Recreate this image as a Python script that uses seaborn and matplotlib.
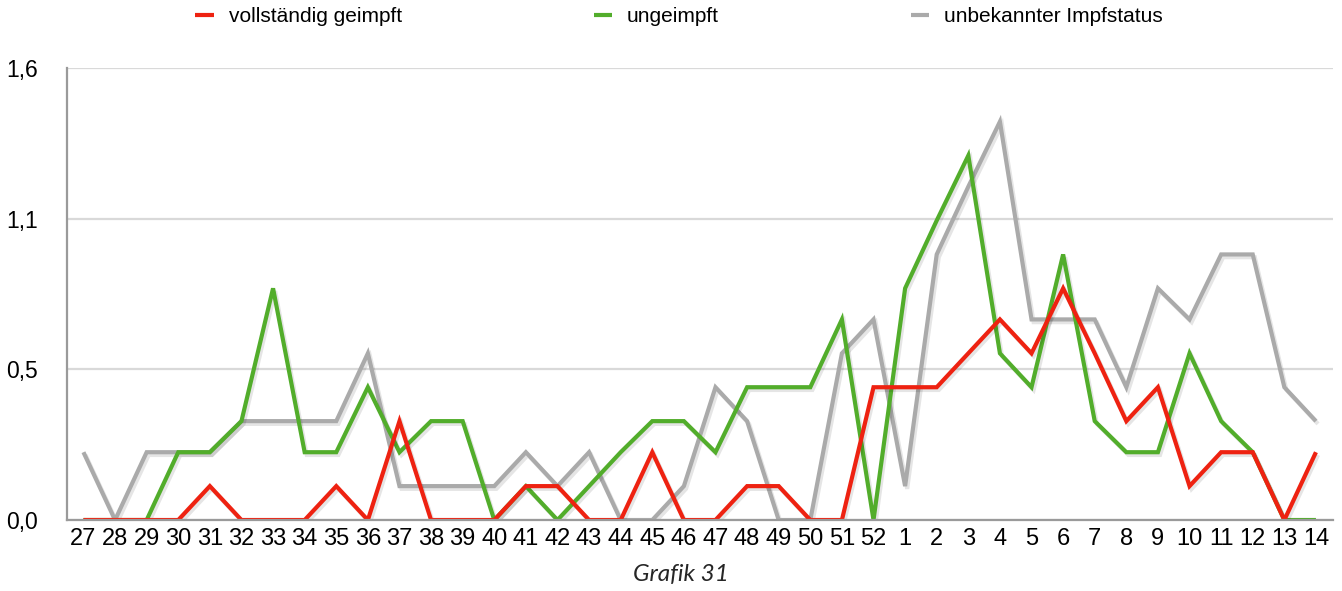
import matplotlib
matplotlib.use('Agg')
import matplotlib.pyplot as plt
import matplotlib.patheffects as pe
import seaborn as sns
import pandas as pd
import numpy as np

# Kalenderwochen (27/2021 bis 14/2022)
weeks = ['27', '28', '29', '30', '31', '32', '33', '34', '35', '36', '37', '38', '39', '40',
         '41', '42', '43', '44', '45', '46', '47', '48', '49', '50', '51', '52',
         '1', '2', '3', '4', '5', '6', '7', '8', '9', '10', '11', '12', '13', '14']

vollstaendig = [0, 0, 0, 0, 0.12, 0, 0, 0, 0.12, 0, 0.35, 0, 0, 0,
                0.12, 0.12, 0, 0, 0.24, 0, 0, 0.12, 0.12, 0, 0, 0.47,
                0.47, 0.47, 0.59, 0.71, 0.59, 0.82, 0.59, 0.35, 0.47, 0.12, 0.24, 0.24, 0, 0.24]

ungeimpft = [0, 0, 0, 0.24, 0.24, 0.35, 0.82, 0.24, 0.24, 0.47, 0.24, 0.35, 0.35, 0,
             0.12, 0, 0.12, 0.24, 0.35, 0.35, 0.24, 0.47, 0.47, 0.47, 0.71, 0,
             0.82, 1.06, 1.29, 0.59, 0.47, 0.94, 0.35, 0.24, 0.24, 0.59, 0.35, 0.24, 0, 0]

unbekannt = [0.24, 0, 0.24, 0.24, 0.24, 0.35, 0.35, 0.35, 0.35, 0.59, 0.12, 0.12, 0.12, 0.12,
             0.24, 0.12, 0.24, 0, 0, 0.12, 0.47, 0.35, 0, 0, 0.59, 0.71,
             0.12, 0.94, 1.18, 1.41, 0.71, 0.71, 0.71, 0.47, 0.82, 0.71, 0.94, 0.94, 0.47, 0.35]

series_names = ['vollständig geimpft', 'ungeimpft', 'unbekannter Impfstatus']
colors = {'vollständig geimpft': '#ee2211',
          'ungeimpft': '#52ad2b',
          'unbekannter Impfstatus': '#aaaaaa'}

ytick_vals = [0, 1.6 / 3, 3.2 / 3, 1.6]
ytick_labels = ['0,0', '0,5', '1,1', '1,6']

pos = np.arange(len(weeks))
df = pd.concat([
    pd.DataFrame({'pos': pos, 'value': vals, 'series': name})
    for name, vals in zip(series_names, [vollstaendig, ungeimpft, unbekannt])
])

sns.set_style('white')
plt.rcParams['font.family'] = ['Liberation Sans', 'DejaVu Sans']

fig = plt.figure(figsize=(13.42, 5.91), dpi=100)
ax = fig.add_axes([0.0497, 0.1201, 0.9436, 0.7649])

shadow = [pe.SimpleLineShadow(offset=(1.5, -2), alpha=0.1, shadow_color='black'), pe.Normal()]

handles = {}
for name in reversed(series_names):
    sub = df[df['series'] == name]
    sns.lineplot(data=sub, x='pos', y='value', ax=ax, color=colors[name],
                 linewidth=3, sort=False, label=name)
    line = ax.lines[-1]
    line.set_path_effects(shadow)
    line.set_solid_joinstyle('miter')
    line.set_solid_capstyle('butt')
    handles[name] = line

ax.set_xlim(-0.53, 39.54)
ax.set_ylim(0, 1.6)
ax.set_xticks(pos)
ax.set_xticklabels(weeks, fontsize=17, color='black')
ax.set_yticks(ytick_vals)
ax.set_yticklabels(ytick_labels, fontsize=16.5, color='black')
ax.tick_params(axis='x', length=0, pad=6)
ax.tick_params(axis='y', length=0, pad=21)
ax.set_xlabel('')
ax.set_ylabel('')

ax.yaxis.grid(True, color='#d9d9d9', linewidth=1.6)
ax.set_axisbelow(True)
for side in ['top', 'right']:
    ax.spines[side].set_visible(False)
for side in ['left', 'bottom']:
    ax.spines[side].set_color('#9a9a9a')
    ax.spines[side].set_linewidth(1.6)

ax.get_legend().remove()
fig.legend([handles[n] for n in series_names], series_names, ncol=3,
           loc='center', bbox_to_anchor=(679 / 1342, 1 - 17 / 591),
           frameon=False, fontsize=15, handlelength=0.9, handletextpad=0.7,
           columnspacing=9.2, labelcolor='black')
for h in fig.legends[0].legend_handles:
    h.set_path_effects([])

fig.text(681 / 1342, 1 - 575 / 591, 'Grafik 31', ha='center', va='center',
         fontsize=17.5, style='italic', family=['Lato', 'DejaVu Sans'])

fig.savefig('out.png', dpi=100)
